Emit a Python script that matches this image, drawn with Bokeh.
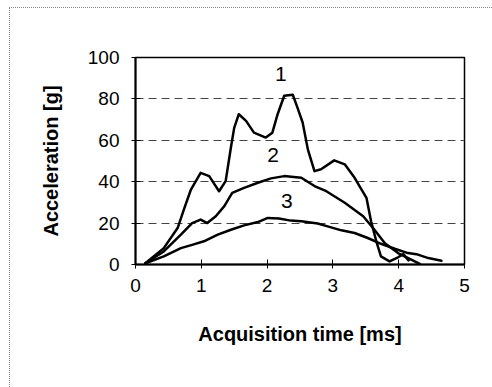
from bokeh.plotting import figure
from bokeh.models import Range1d, FixedTicker
from bokeh.core.properties import value
from bokeh.embed import file_html
from bokeh.resources import INLINE

# Curve 1
t1 = [0.15, 0.43, 0.64, 0.74, 0.84, 0.99, 1.12, 1.27, 1.37, 1.45, 1.50, 1.57, 1.68, 1.80, 1.98,
      2.08, 2.16, 2.26, 2.39, 2.46, 2.54, 2.62, 2.72, 2.82, 3.02, 3.18, 3.33, 3.51, 3.58,
      3.66, 3.73, 3.86, 3.99, 4.07, 4.15]
a1 = [0.6, 7.9, 17.6, 27, 36, 44.3, 42.7, 35.4, 40.3, 56.5, 66, 72.6, 69.4, 63.7, 61.3,
      63.7, 72.6, 81.5, 82, 75.9, 68.6, 55.5, 45.1, 46, 50.3, 48.4, 41.9, 32.2, 20.9,
      11.2, 3.9, 1.5, 3.5, 5, 2]
# Curve 2
t2 = [0.15, 0.43, 0.69, 0.86, 0.99, 1.09, 1.22, 1.35, 1.47, 1.65, 1.86, 2.06, 2.26, 2.44,
      2.52, 2.72, 2.90, 3.18, 3.46, 3.61, 3.79, 3.99, 4.19, 4.32]
a2 = [0.6, 6.3, 14.4, 20, 21.7, 20, 23.3, 28.2, 34.6, 37, 39.5, 41.6, 42.7, 42.2,
      41.9, 37.9, 35.4, 29.8, 23.3, 17.6, 10.3, 5.5, 2.3, 0.3]
# Curve 3
t3 = [0.15, 0.43, 0.69, 0.86, 1.04, 1.25, 1.45, 1.65, 1.86, 2.01, 2.18, 2.36, 2.52, 2.77,
      2.92, 3.13, 3.33, 3.53, 3.73, 3.94, 4.14, 4.27, 4.45, 4.65]
a3 = [0.6, 3.9, 7.9, 9.5, 11.2, 14.4, 16.8, 18.9, 20.5, 22.5, 22.2, 21.2, 20.9, 19.8,
      18.4, 16.5, 15.2, 12.8, 10, 7.6, 5.5, 5, 3.1, 1.8]

curve_labels = ["1", "2", "3"]
label_t = [2.21, 2.09, 2.30]
label_a = [92, 53, 30.6]

x_ticks = [0, 1, 2, 3, 4, 5]
y_ticks = [0, 20, 40, 60, 80, 100]

p = figure(width=483, height=380, output_backend="svg", toolbar_location=None,
           x_range=Range1d(0, 5), y_range=Range1d(0, 100),
           min_border_left=125, min_border_right=29, min_border_top=49, min_border_bottom=124)
p.margin = (7, 0, 0, 9)
p.styles = {"border-left": "1px dotted #888888", "border-top": "1px dotted #888888"}
p.background_fill_color = "white"
p.border_fill_color = "white"
p.outline_line_color = "black"
p.outline_line_width = 1.5

for ax in (p.xaxis[0], p.yaxis[0]):
    ax.axis_line_color = "black"
    ax.axis_line_width = 2
    ax.major_tick_line_color = "black"
    ax.major_tick_line_width = 1
    ax.major_tick_in = 5
    ax.major_tick_out = 4
    ax.minor_tick_line_color = None
    ax.major_label_text_font = "Liberation Sans"
    ax.major_label_text_font_size = "19px"
    ax.major_label_text_color = "black"
    ax.axis_label_text_font = "Liberation Sans"
    ax.axis_label_text_font_size = "20px"
    ax.axis_label_text_font_style = "bold"
    ax.axis_label_text_color = "black"

p.xaxis.ticker = FixedTicker(ticks=x_ticks)
p.yaxis.ticker = FixedTicker(ticks=y_ticks)
p.xaxis.axis_label = "Acquisition time [ms]"
p.yaxis.axis_label = "Acceleration [g]"
p.xaxis.major_label_standoff = 10
p.yaxis.major_label_standoff = 12
p.xaxis.axis_label_standoff = 28
p.yaxis.axis_label_standoff = 23

p.xgrid.grid_line_color = None
p.ygrid.ticker = FixedTicker(ticks=[20, 40, 60, 80])
p.ygrid.grid_line_color = "#444444"
p.ygrid.grid_line_width = 1
p.ygrid.grid_line_dash = "8 5"

for t, a in ((t1, a1), (t2, a2), (t3, a3)):
    p.line(t, a, line_color="black", line_width=2.5, line_join="round", line_cap="round")

p.text(x=label_t, y=label_a, text=curve_labels, text_align="center", text_baseline="middle",
       text_font=value("Liberation Sans"), text_font_size="21px", text_color="black")

open("out.html", "w").write(file_html(p, INLINE))
